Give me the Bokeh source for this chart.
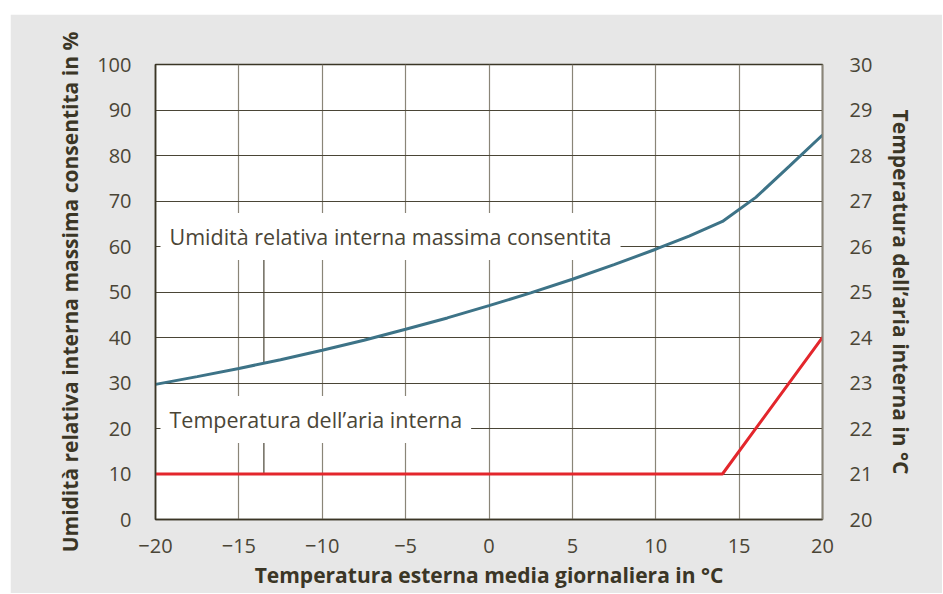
import numpy as np
from bokeh.plotting import figure
from bokeh.models import Range1d, LinearAxis, FixedTicker, Label, Spacer
from bokeh.layouts import column, row
from bokeh.embed import file_html
from bokeh.resources import INLINE

# data
x_hum = [-20, -17.5, -15, -12.5, -10, -7.5, -5, -2.5, 0, 2.5, 5, 7.5, 10, 12, 14, 16, 18, 20]
humidity = [29.7, 31.4, 33.2, 35.1, 37.2, 39.4, 41.8, 44.3, 47.0, 49.8, 52.8, 56.0, 59.4, 62.3, 65.5, 70.8, 77.6, 84.5]
x_temp = [-20, 14, 20]
temp_int = [21, 21, 24]
x_ticks = [-20, -15, -10, -5, 0, 5, 10, 15, 20]
y_ticks = [0, 10, 20, 30, 40, 50, 60, 70, 80, 90, 100]
t_ticks = [20, 21, 22, 23, 24, 25, 26, 27, 28, 29, 30]
label_hum = "Umidità relativa interna massima consentita"
label_temp = "Temperatura dell\u2019aria interna"
leader_x = -13.5

TXT = "#3b3626"
BG = "#e7e7e7"
LIGHT = "Open Sans"
TITLE = "Open Sans"

p = figure(width=932, height=579, x_range=Range1d(-20, 20), y_range=Range1d(0, 100),
           output_backend="svg", toolbar_location=None,
           min_border_left=145, min_border_right=120, min_border_top=50, min_border_bottom=74)
p.extra_y_ranges = {"t": Range1d(20, 30)}
p.background_fill_color = "white"
p.border_fill_color = BG
p.outline_line_color = "#3b3626"
p.outline_line_width = 1.5

# grids
p.xgrid.ticker = FixedTicker(ticks=x_ticks)
p.ygrid.ticker = FixedTicker(ticks=y_ticks)
p.xgrid.grid_line_color = "#8a8578"
p.ygrid.grid_line_color = "#4a4536"
p.xgrid.grid_line_width = 1.2
p.ygrid.grid_line_width = 1.2

def style_axis(ax, ticks, overrides=None):
    ax.ticker = FixedTicker(ticks=ticks)
    ax.major_tick_line_color = None
    ax.minor_tick_line_color = None
    ax.major_label_text_font = LIGHT
    ax.major_label_text_font_size = "20px"
    ax.major_label_text_color = "#4a4536"
    ax.axis_label_text_font = TITLE
    ax.axis_label_text_font_size = "21px"
    ax.axis_label_text_font_style = "bold"
    ax.axis_label_text_color = TXT
    if overrides:
        ax.major_label_overrides = overrides

xa = p.xaxis[0]
style_axis(xa, x_ticks, {t: (str(t).replace("-", "\u2212")) for t in x_ticks if t < 0})
xa.axis_label = "Temperatura esterna media giornaliera in °C"
xa.major_label_standoff = 13
xa.axis_label_standoff = 5
xa.axis_line_color = TXT
xa.axis_line_width = 1.5

ya = p.yaxis[0]
style_axis(ya, y_ticks)
ya.axis_label = "Umidità relativa interna massima consentita in %"
ya.major_label_standoff = 18
ya.axis_label_standoff = 10
ya.axis_line_color = TXT
ya.axis_line_width = 1.5

ra = LinearAxis(y_range_name="t")
style_axis(ra, t_ticks)
ra.axis_label = "Temperatura dell\u2019aria interna in °C"
ra.major_label_standoff = 21
ra.axis_label_standoff = 12
ra.axis_line_color = "#8a8578"
ra.axis_line_width = 1.5
p.add_layout(ra, "right")

# leader lines
hum_at = float(np.interp(leader_x, x_hum, humidity))
p.segment(x0=[leader_x], y0=[58.0], x1=[leader_x], y1=[hum_at], line_color="#4a4536", line_width=1.2)
p.segment(x0=[leader_x], y0=[17.6], x1=[leader_x], y1=[10], line_color="#4a4536", line_width=1.2)

# curves
p.line(x_hum, humidity, line_color="#3d7387", line_width=3)
p.line(x_temp, temp_int, y_range_name="t", line_color="#e3262c", line_width=3)

# labels
for txt, yv in [(label_hum, 62.2), (label_temp, 22.0)]:
    lab = Label(x=-19.7, y=yv, text=txt, text_baseline="middle", text_align="left",
                text_font=LIGHT, text_font_size="21.5px", text_color="#4a4536",
                background_fill_color="white", padding=9)
    p.add_layout(lab)

layout = column(Spacer(width=942, height=14),
                row(Spacer(width=10, height=579), p))
open("out.html", "w").write(file_html(layout, INLINE))
